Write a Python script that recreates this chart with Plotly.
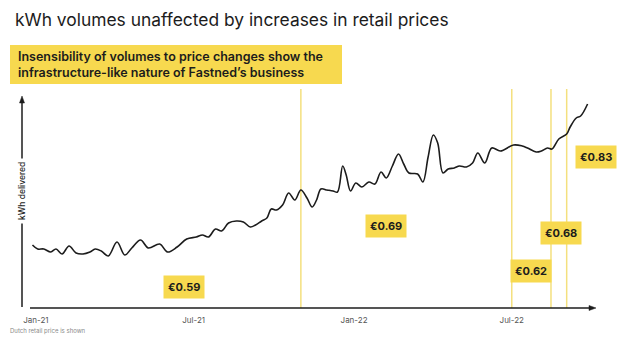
import plotly.graph_objects as go

# ---- data ----
dates = [
    "2020-12-28", "2021-01-03", "2021-01-10", "2021-01-18", "2021-01-24", "2021-01-31",
    "2021-02-08", "2021-02-16", "2021-02-24", "2021-03-04", "2021-03-10", "2021-03-17",
    "2021-03-25", "2021-04-04", "2021-04-13", "2021-04-21", "2021-05-01", "2021-05-10",
    "2021-05-23", "2021-06-01", "2021-06-12", "2021-06-23", "2021-07-04", "2021-07-11",
    "2021-07-18", "2021-07-26", "2021-08-02", "2021-08-10", "2021-08-19", "2021-08-27",
    "2021-09-04", "2021-09-10", "2021-09-17", "2021-09-23", "2021-09-28", "2021-10-04",
    "2021-10-11", "2021-10-18", "2021-10-25", "2021-11-01", "2021-11-08", "2021-11-14",
    "2021-11-19", "2021-11-24", "2021-12-01", "2021-12-08", "2021-12-13", "2021-12-19",
    "2021-12-23", "2021-12-28", "2022-01-03", "2022-01-10", "2022-01-18", "2022-01-25",
    "2022-02-01", "2022-02-07", "2022-02-14", "2022-02-21", "2022-02-27", "2022-03-05",
    "2022-03-15", "2022-03-21", "2022-03-27", "2022-04-02", "2022-04-07", "2022-04-13",
    "2022-04-19", "2022-04-26", "2022-05-02", "2022-05-10", "2022-05-17", "2022-05-23",
    "2022-05-31", "2022-06-08", "2022-06-18", "2022-07-03", "2022-07-13", "2022-07-19",
    "2022-07-29", "2022-08-04", "2022-08-11", "2022-08-16", "2022-08-24", "2022-09-02",
    "2022-09-06", "2022-09-13", "2022-09-18", "2022-09-26",
]
kwh_delivered = [
    55, 51, 51, 48, 51, 46,
    54, 47, 46, 48, 51, 49,
    44, 58, 45, 52, 60, 52,
    56, 48, 53, 61, 63, 65,
    63, 71, 69, 77, 79, 78,
    73, 75, 79, 82, 91, 90,
    95, 107, 100, 110, 102, 93,
    100, 111, 110, 109, 108, 134,
    125, 109, 117, 113, 118, 116,
    128, 122, 134, 146, 136, 127,
    126, 118, 143, 165, 157, 127,
    131, 132, 134, 133, 137, 147,
    137, 152, 149, 155, 154, 152,
    148, 149, 152, 151, 161, 166,
    173, 182, 184, 196,
]
price_change_dates = ["2021-11-01", "2022-07-01", "2022-08-15", "2022-09-02"]
price_labels = ["€0.59", "€0.69", "€0.62", "€0.68", "€0.83"]
tick_dates = ["2021-01-01", "2021-07-01", "2022-01-01", "2022-07-01"]
tick_text = ["Jan-21", "Jul-21", "Jan-22", "Jul-22"]

title_text = "kWh volumes unaffected by increases in retail prices"
subtitle_text = ("Insensibility of volumes to price changes show the<br>"
                 "infrastructure-like nature of Fastned’s business")
y_label = "kWh delivered"
footnote = "Dutch retail price is shown"

# ---- layout geometry ----
W, H = 630, 337
L, R, T, B = 22, 35, 97, 29
PW, PH = W - L - R, H - T - B
YELLOW = "#F7D94F"
PALE = "#F4E07E"
INK = "#1c1c1c"
FONT = "Inter"


def px(x):
    return (x - L) / PW


def py(y):
    return (H - B - y) / PH


fig = go.Figure()
fig.add_trace(go.Scatter(
    x=dates, y=kwh_delivered, mode="lines",
    line=dict(color=INK, width=1.6, shape="spline", smoothing=1.0),
    hoverinfo="skip", showlegend=False,
))

shapes = []
for d in price_change_dates:
    shapes.append(dict(type="line", xref="x", yref="paper", x0=d, x1=d,
                       y0=0, y1=py(89), line=dict(color=PALE, width=1.5), layer="below"))

# axes with arrows
shapes.append(dict(type="line", xref="paper", yref="paper", x0=px(30), x1=px(591),
                   y0=py(308), y1=py(308), line=dict(color=INK, width=1.5)))
shapes.append(dict(type="path", xref="paper", yref="paper",
                   path=f"M {px(589)} {py(305.5)} L {px(596)} {py(308)} L {px(589)} {py(310.5)} Z",
                   fillcolor=INK, line=dict(color=INK, width=0.5)))
shapes.append(dict(type="line", xref="paper", yref="paper", x0=px(22), x1=px(22),
                   y0=py(307), y1=py(101), line=dict(color=INK, width=1.5)))
shapes.append(dict(type="path", xref="paper", yref="paper",
                   path=f"M {px(19.5)} {py(103)} L {px(22)} {py(96)} L {px(24.5)} {py(103)} Z",
                   fillcolor=INK, line=dict(color=INK, width=0.5)))
# subtitle box
shapes.append(dict(type="rect", xref="paper", yref="paper", x0=px(10), x1=px(342),
                   y0=py(84), y1=py(45), fillcolor=YELLOW, line=dict(width=0)))

annotations = [
    dict(text=title_text, xref="paper", yref="paper", x=px(13), y=py(20),
         xanchor="left", yanchor="middle", showarrow=False,
         font=dict(family=FONT, size=17.4, color=INK)),
    dict(text=subtitle_text, xref="paper", yref="paper", x=px(16), y=py(64.5),
         xanchor="left", yanchor="middle", showarrow=False, align="left",
         font=dict(family=FONT, size=12.5, color=INK, weight=600)),
    dict(text=y_label, xref="paper", yref="paper", x=px(22), y=py(191),
         xanchor="center", yanchor="middle", showarrow=False, textangle=-90,
         bgcolor="white", borderpad=3,
         font=dict(family=FONT, size=8.5, color=INK, weight=500)),
    dict(text=footnote, xref="paper", yref="paper", x=px(8), y=py(331),
         xanchor="left", yanchor="middle", showarrow=False,
         font=dict(family=FONT, size=6, color="#8a8a8a")),
]

label_pos = [(184, 287), (386, 226), (531, 271), (561, 233), (596, 157)]
for lab, (lx, ly) in zip(price_labels, label_pos):
    annotations.append(dict(text=f"<b>{lab}</b>", xref="paper", yref="paper",
                            x=px(lx), y=py(ly), xanchor="center", yanchor="middle",
                            showarrow=False, bgcolor=YELLOW, borderpad=4,
                            font=dict(family=FONT, size=11, color=INK)))

fig.update_layout(
    width=W, height=H,
    margin=dict(l=L, r=R, t=T, b=B),
    paper_bgcolor="white", plot_bgcolor="white",
    shapes=shapes, annotations=annotations,
    xaxis=dict(range=["2020-12-16", "2022-10-04 12:00"], type="date",
               tickvals=tick_dates, ticktext=tick_text, showgrid=False,
               zeroline=False, showline=False, ticks="outside", ticklen=4,
               tickcolor="rgba(0,0,0,0)",
               tickfont=dict(family=FONT, size=8, color="#555555")),
    yaxis=dict(range=[-8, 203], showgrid=False, zeroline=False,
               showline=False, showticklabels=False, ticks=""),
)

fig.write_html("out.html")
